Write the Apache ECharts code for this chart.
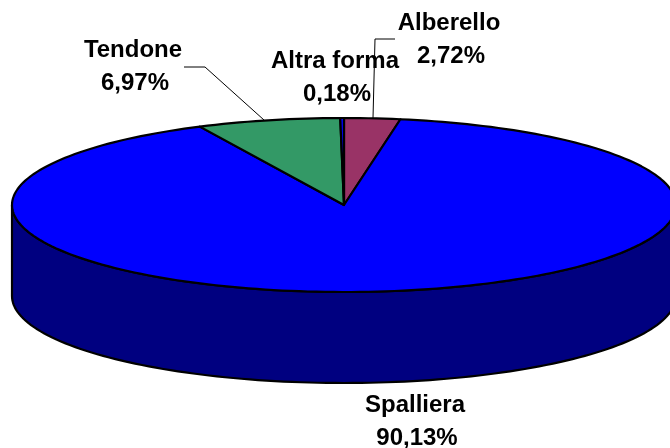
<!DOCTYPE html>
<html>
<head>
<meta charset="utf-8">
<style>html,body{margin:0;padding:0;background:#fff}#item{width:670px;height:448px}</style>
<script src="https://cdn.jsdelivr.net/npm/echarts@6/dist/echarts.min.js"></script>
</head>
<body>
<div id="item"></div>
<script>
	var item = echarts.init(document.getElementById('item'));
	/*-- categories, clockwise from 12 o'clock --*/
	let categories = ['Alberello','Spalliera','Tendone','Altra forma'];
	/*-- percent --*/
	let values = [2.72,90.13,6.97,0.18];
	let colors = ['#993366','#0000ff','#339966','#0000ff'];
	let sideColor = '#000080';

	// pie geometry
	let cx = 344, cy = 205, rx = 332, ry = 87, depth = 91;
	let total = values.reduce(function(a,b){return a+b},0);

	function pt(deg, dy){
		let r = deg*Math.PI/180;
		return [cx+rx*Math.sin(r), cy-ry*Math.cos(r)+(dy||0)];
	}
	function arc(a0, a1, dy){
		let pts = [];
		let n = Math.max(1, Math.ceil((a1-a0)/1.5));
		for(let i=0;i<=n;i++) pts.push(pt(a0+(a1-a0)*i/n, dy));
		return pts;
	}
	function renderSlice(params, api){
		let before = 0;
		for(let i=0;i<params.dataIndex;i++) before += values[i];
		let a0 = before/total*360;
		let a1 = a0+api.value(0)/total*360;
		let children = [];
		// side wall, only the front half is visible
		let s0 = Math.max(a0,90), s1 = Math.min(a1,270);
		if(s1>s0){
			children.push({
				type:'polygon',
				shape:{points:arc(s0,s1,0).concat(arc(s0,s1,depth).reverse())},
				style:{fill:sideColor,stroke:'#000',lineWidth:2.2,lineJoin:'round'}
			});
		}
		children.push({
			type:'polygon',
			shape:{points:[[cx,cy]].concat(arc(a0,a1,0))},
			style:{fill:colors[params.dataIndex],stroke:'#000',lineWidth:2.2,lineJoin:'round'}
		});
		return {type:'group',children:children};
	}

	// label centres
	let labelPos = [[449,23],[415,405],[133,50],[335,61]];
	let labelGraphics = [];
	categories.forEach(function(name,i){
		let pct = values[i].toFixed(2).replace('.',',')+'%';
		[name,pct].forEach(function(t,j){
			labelGraphics.push({
				type:'text',
				x:labelPos[i][0]+j*2,
				y:labelPos[i][1]+j*33.5,
				z:10,
				style:{text:t,fill:'#000',font:'bold 24px "Liberation Sans", Arial, sans-serif',align:'center',verticalAlign:'middle'}
			});
		});
	});
	// leader lines
	[[[184,67],[205,67],[264,120]],[[395,39],[375,39],[373,118]]].forEach(function(p){
		labelGraphics.push({
			type:'polyline',
			z:9,
			shape:{points:p},
			style:{fill:null,stroke:'#000',lineWidth:1}
		});
	});

	let _item = {
		animation:false,
		graphic:labelGraphics,
		series:[{
			type:'custom',
			coordinateSystem:'none',
			silent:true,
			renderItem:renderSlice,
			data:values.map(function(v){return [v]})
		}]
	};
	item.setOption(_item);
</script>
</body>
</html>
